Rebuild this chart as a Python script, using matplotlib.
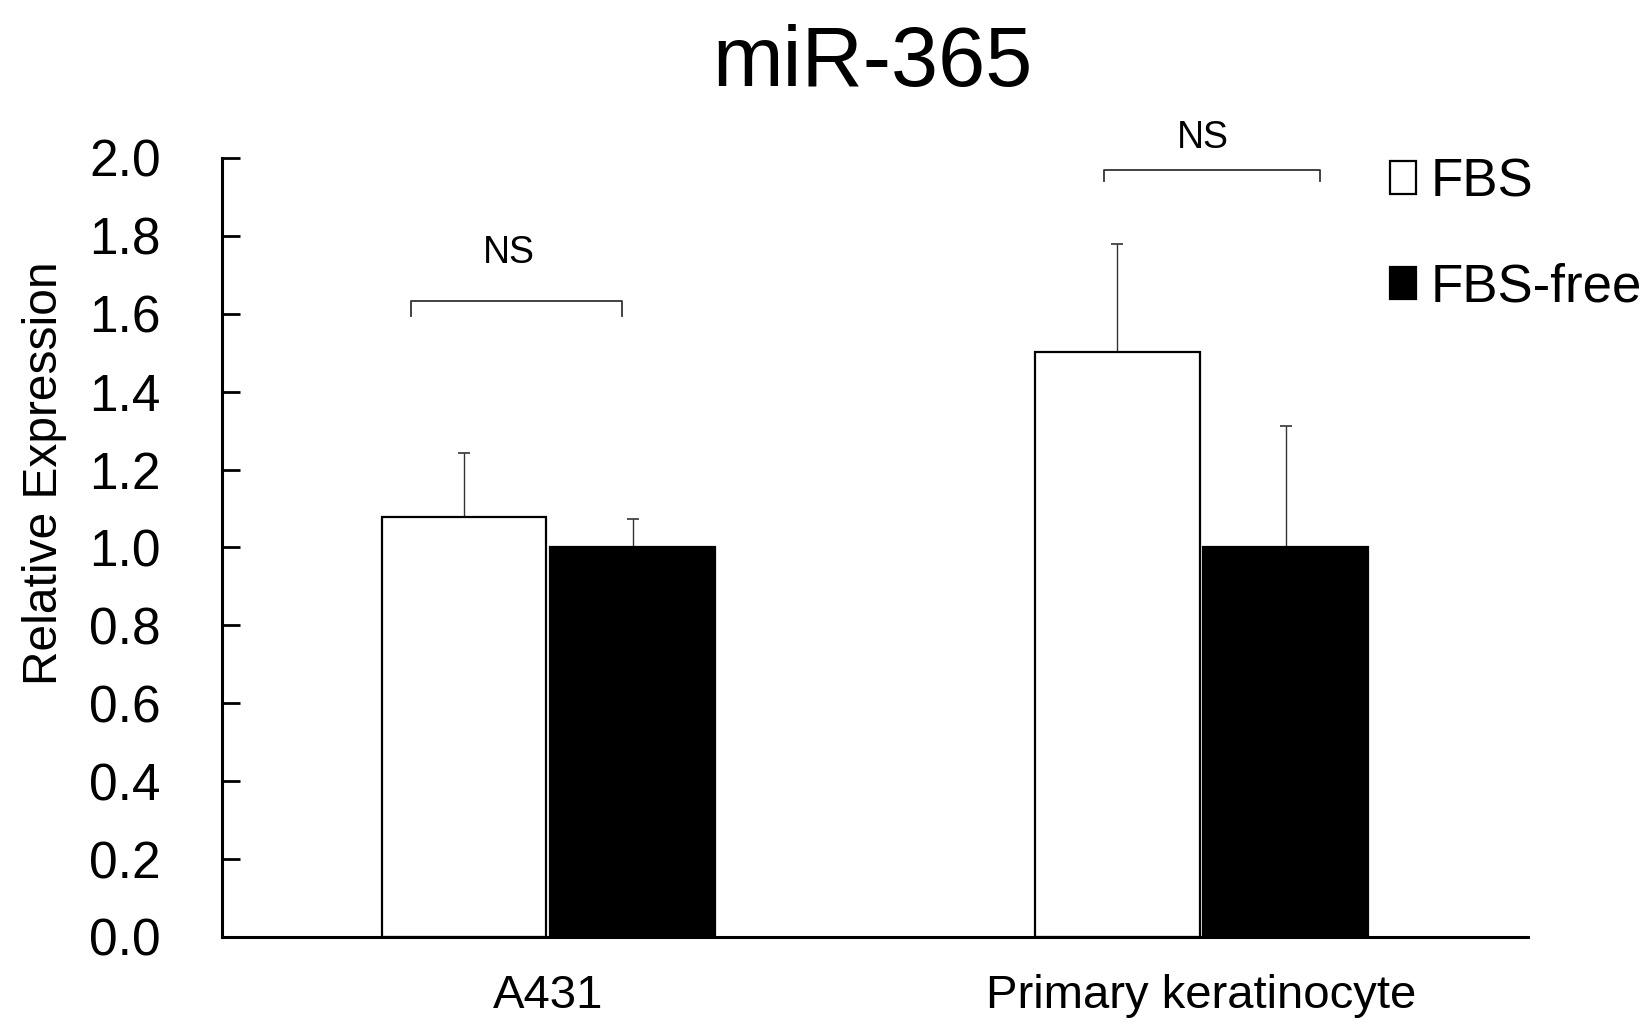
import matplotlib
matplotlib.use("Agg")
import matplotlib.pyplot as plt
import numpy as np

plt.rcParams['font.family'] = ['Liberation Sans', 'DejaVu Sans']

categories = ["A431", "Primary keratinocyte"]
series_names = ["FBS", "FBS-free"]
fbs_values = [1.077, 1.502]
fbs_err = [0.166, 0.278]
free_values = [1.0, 1.0]
free_err = [0.073, 0.313]
sig_labels = ["NS", "NS"]
yticks = [0.0, 0.2, 0.4, 0.6, 0.8, 1.0, 1.2, 1.4, 1.6, 1.8, 2.0]

fig = plt.figure(figsize=(16.49, 10.23), dpi=100)
ax = fig.add_axes([0.1346, 0.0841, 0.7920, 0.7615])

x = np.arange(len(categories))
w = 0.252
off = 0.129

ax.bar(x - off, fbs_values, w, color='white', edgecolor='black', linewidth=1.6,
       label=series_names[0], zorder=2)
ax.bar(x + off, free_values, w, color='black', edgecolor='black', linewidth=1.6,
       label=series_names[1], zorder=2)
ax.errorbar(x - off, fbs_values, yerr=[np.zeros(len(x)), fbs_err], fmt='none',
            ecolor='#333333', elinewidth=1.0, capsize=4, capthick=1.2, zorder=1)
ax.errorbar(x + off, free_values, yerr=[np.zeros(len(x)), free_err], fmt='none',
            ecolor='#333333', elinewidth=1.0, capsize=4, capthick=1.2, zorder=1)

# significance brackets: (x0, x1, y bracket, y tick end, text x, text y)
brackets = [(-0.21, 0.112, 1.633, 1.594, -0.061, 1.756),
            (0.851, 1.182, 1.969, 1.94, 1.0015, 2.05)]
for (x0, x1, yb, yt, xtext, ytext), lab in zip(brackets, sig_labels):
    ax.plot([x0, x0, x1, x1], [yt, yb, yb, yt], color='#333333', lw=1.3,
            clip_on=False)
    ax.text(xtext, ytext, lab, ha='center', va='center', fontsize=27,
            clip_on=False)

ax.set_xlim(-0.5, 1.5)
ax.set_ylim(0, 2.0)
ax.set_yticks(yticks)
ax.set_yticklabels([f"{v:.1f}" for v in yticks])
ax.set_xticks(x)
ax.set_xticklabels(categories)
ax.tick_params(axis='y', direction='in', length=13, width=2.0, labelsize=37, pad=44)
ax.tick_params(axis='x', length=0, labelsize=34, pad=27)
for s in ['top', 'right']:
    ax.spines[s].set_visible(False)
ax.spines['left'].set_linewidth(2.2)
ax.spines['bottom'].set_linewidth(2.2)

ax.set_ylabel("Relative Expression", fontsize=34.5, va='center')
ax.yaxis.set_label_coords(-0.136, 0.595)

fig.text(0.5294, 0.937, "miR-365", ha='center', va='center', fontsize=61)

leg = ax.legend(loc='upper left', bbox_to_anchor=(0.874, 1.035), frameon=False,
                fontsize=38, handlelength=0.5, handleheight=0.57,
                handletextpad=0.28, labelspacing=1.05, borderpad=0)

fig.savefig("out.png", dpi=100)
